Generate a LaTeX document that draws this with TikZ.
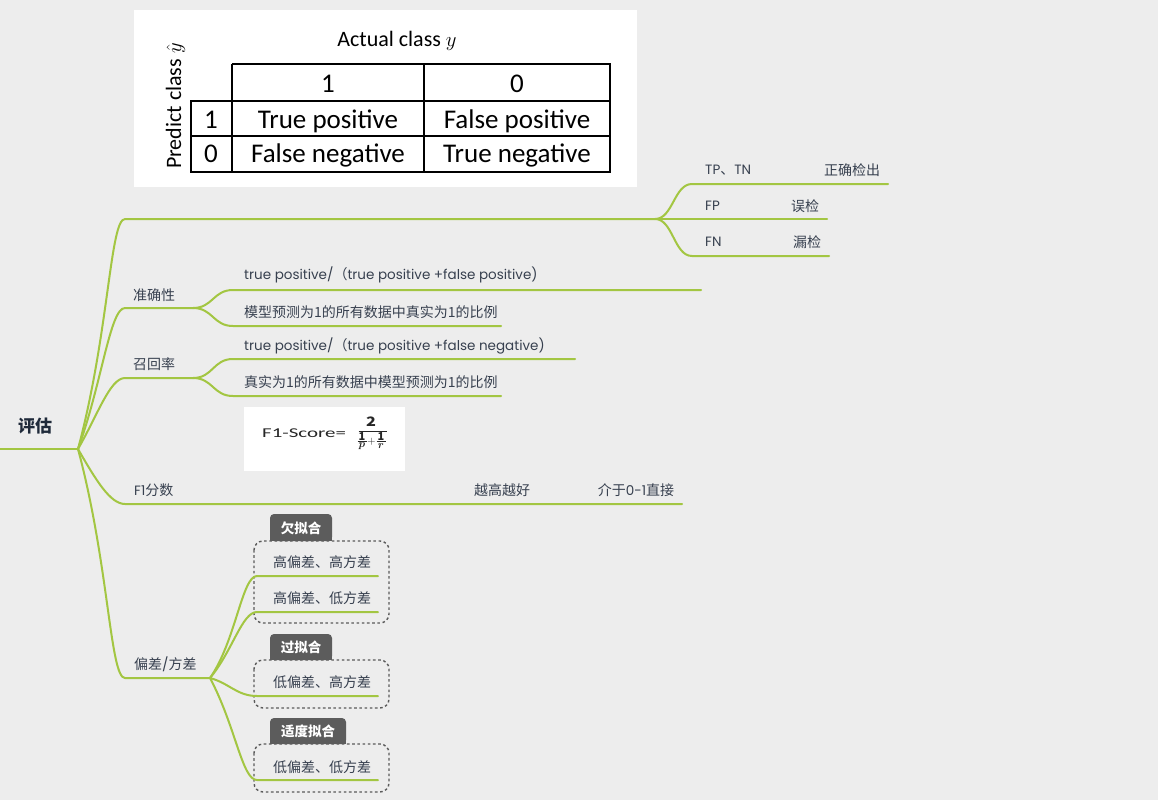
\documentclass[tikz,border=0pt]{standalone}
\usepackage{graphicx}
\usepackage{amsmath}
\usepackage{fontspec}
\setmainfont{Noto Sans CJK SC}
\newfontfamily\cjkf{Noto Sans CJK SC}
\newfontfamily\popf{Poppins}
\newfontfamily\calib{Carlito}
\newfontfamily\calibw{Carlito}[FakeStretch=1.55]
\newcommand{\latn}[1]{{\popf\fontsize{13.5}{16}\selectfont #1}}
\usetikzlibrary{calc}
\definecolor{bg}{HTML}{EDEDED}
\definecolor{grn}{HTML}{A3C642}
\definecolor{txt}{HTML}{37404F}
\definecolor{rootc}{HTML}{1F2A3A}
\definecolor{tabc}{HTML}{5C5C5C}
\definecolor{dsh}{HTML}{5A5A5A}
\tikzset{
  br/.style={draw=grn, line width=2pt, line cap=round},
  lbl/.style={font=\cjkf\fontsize{14}{16}\selectfont, text=txt, inner sep=0pt, anchor=west},
  clbl/.style={lbl, anchor=center},
  tbl/.style={draw=black, line width=1.3pt},
  tt/.style={font=\calib\fontsize{27}{30}\selectfont, inner sep=0pt, anchor=base},
  tth/.style={font=\calib\fontsize{22}{26}\selectfont, inner sep=0pt, anchor=base},
  dbox/.style={draw=dsh, line width=1.4pt, dash pattern=on 2.6pt off 2.6pt, rounded corners=9pt},
  tabtxt/.style={font=\cjkf\bfseries\fontsize{13.5}{16}\selectfont, text=white, inner sep=0pt},
  tabfill/.style={fill=tabc},
  fm/.style={inner sep=0pt, text=black!85, font=\fontsize{13}{14}\selectfont},
  fms/.style={inner sep=0pt, text=black!85, font=\fontsize{11}{12}\selectfont},
  fbar/.style={draw=black!85, line width=0.9pt},
}
\begin{document}
\begin{tikzpicture}[x=1pt,y=1pt]
\useasboundingbox (0,0) rectangle (1158,-800);
\fill[bg] (0,0) rectangle (1158,-800);

% ---- confusion matrix image
\fill[white] (134,-10) rectangle (637,-187);
\draw[tbl] (232,-64) -- (610,-64) -- (610,-172) -- (191,-172) -- (191,-101) -- (610,-101);
\draw[tbl] (232,-64) -- (232,-172);
\draw[tbl] (424,-64) -- (424,-172);
\draw[tbl] (191,-136) -- (610,-136);
\node[tth] (act) at (397,-47) {Actual class $y$};
\node[tth, rotate=90] (pred) at (181,-106) {Predict class $\hat{y}$};
\node[tt] (h1) at (328,-92) {1};
\node[tt] (h0) at (517,-92) {0};
\node[tt] (r1) at (211,-128) {1};
\node[tt] (tp) at (328,-128) {True positive};
\node[tt] (fp) at (517,-128) {False positive};
\node[tt] (r0l) at (211,-162) {0};
\node[tt] (fn) at (328,-162) {False negative};
\node[tt] (tn) at (517,-162) {True negative};

% ---- root
\node[font=\cjkf\bfseries\fontsize{17}{20}\selectfont, text=rootc, anchor=west, inner sep=0pt] (root) at (18,-426) {评估};
\coordinate (r0) at (0,-449);
\coordinate (J) at (78,-449);
\draw[br] (r0) -- (J);

% ---- branch 1 (TP/FP/FN)
\coordinate (b1s) at (125,-219);
\coordinate (b1e) at (655,-219);
\draw[br] (J) to[out=75,in=180,out distance=120pt,in distance=15pt] (b1s) -- (b1e);
\coordinate (tps) at (692,-184); \coordinate (tpe) at (888,-184);
\coordinate (fpe) at (827,-219);
\coordinate (fns) at (692,-256); \coordinate (fne) at (829,-256);
\draw[br] (b1e) to[out=0,in=180,out distance=18pt,in distance=18pt] (tps) -- (tpe);
\draw[br] (b1e) -- (fpe);
\draw[br] (b1e) to[out=0,in=180,out distance=18pt,in distance=18pt] (fns) -- (fne);
\node[lbl] (ltp) at (705,-170) {\latn{TP}、\latn{TN}};
\node[lbl] (ltpd) at (824,-170) {正确检出};
\node[lbl] (lfp) at (705,-206) {\latn{FP}};
\node[lbl] (lfpd) at (791,-206) {误检};
\node[lbl] (lfn) at (705,-242) {\latn{FN}};
\node[lbl] (lfnd) at (793,-242) {漏检};

% ---- 准确性
\coordinate (b2s) at (125,-308); \coordinate (b2e) at (193,-308);
\draw[br] (J) to[out=70,in=180,out distance=70pt,in distance=15pt] (b2s) -- (b2e);
\node[lbl] (lacc) at (133,-295) {准确性};
\coordinate (a1s) at (233,-290); \coordinate (a1e) at (701,-290);
\coordinate (a2s) at (233,-326); \coordinate (a2e) at (501,-326);
\draw[br] (b2e) to[out=0,in=180,out distance=20pt,in distance=20pt] (a1s) -- (a1e);
\draw[br] (b2e) to[out=0,in=180,out distance=20pt,in distance=20pt] (a2s) -- (a2e);
\node[lbl] (la1) at (244,-275) {\latn{true positive/}（\latn{true positive +false positive)}};
\node[lbl] (la2) at (244,-312) {模型预测为1的所有数据中真实为1的比例};

% ---- 召回率
\coordinate (b3s) at (125,-378); \coordinate (b3e) at (193,-378);
\draw[br] (J) to[out=60,in=180,out distance=40pt,in distance=15pt] (b3s) -- (b3e);
\node[lbl] (lrec) at (133,-364) {召回率};
\coordinate (c1s) at (233,-359); \coordinate (c1e) at (575,-359);
\coordinate (c2s) at (233,-396); \coordinate (c2e) at (501,-396);
\draw[br] (b3e) to[out=0,in=180,out distance=20pt,in distance=20pt] (c1s) -- (c1e);
\draw[br] (b3e) to[out=0,in=180,out distance=20pt,in distance=20pt] (c2s) -- (c2e);
\node[lbl] (lc1) at (244,-346) {\latn{true positive/}（\latn{true positive +false negative)}};
\node[lbl] (lc2) at (244,-382) {真实为1的所有数据中模型预测为1的比例};

% ---- F1 image
\fill[white] (244,-407) rectangle (405,-471);
\node[font=\calibw\fontsize{13.5}{16}\selectfont, inner sep=0pt, anchor=base west, text=black!85] (f1img) at (262,-437) {F1-Score=};
\node[fm] (fnum) at (371,-422) {\scalebox{1.25}[1]{$\mathbf{2}$}};
\draw[fbar] (358.5,-431.7) -- (386.5,-431.7);
\node[fms] (fa1) at (362,-436.8) {$\mathbf{1}$};
\draw[fbar, line width=0.7pt] (357.5,-441.3) -- (366.5,-441.3);
\node[fms] (fap) at (362,-446.5) {$\boldsymbol{p}$};
\node[fms] (fplus) at (371.5,-442) {$+$};
\node[fms] (fb1) at (381,-436.8) {$\mathbf{1}$};
\draw[fbar, line width=0.7pt] (376.5,-441.3) -- (385.5,-441.3);
\node[fms] (fbr) at (381,-446.5) {$\boldsymbol{r}$};

% ---- F1分数
\coordinate (b4s) at (125,-504); \coordinate (b4e) at (682,-504);
\draw[br] (J) to[out=-60,in=180,out distance=35pt,in distance=15pt] (b4s) -- (b4e);
\node[lbl] (lf1) at (134,-490) {\latn{F1}分数};
\node[clbl] (lf1a) at (502,-490) {越高越好};
\node[clbl] (lf1b) at (636,-490) {介于\latn{0-1}直接};

% ---- 偏差/方差
\coordinate (b5s) at (125,-678); \coordinate (b5e) at (210,-678);
\draw[br] (J) to[out=-75,in=180,out distance=120pt,in distance=15pt] (b5s) -- (b5e);
\node[lbl] (lbv) at (134,-664) {偏差\latn{/}方差};

\draw[dbox] (254,-541) rectangle (389,-623);
\draw[dbox] (254,-660) rectangle (389,-708);
\draw[dbox] (254,-744) rectangle (389,-792);

\coordinate (d1s) at (257,-576); \coordinate (d1e) at (378,-576);
\coordinate (d2s) at (257,-612); \coordinate (d2e) at (378,-612);
\coordinate (d3s) at (257,-696); \coordinate (d3e) at (378,-696);
\coordinate (d4s) at (257,-780); \coordinate (d4e) at (378,-780);
\draw[br] (b5e) to[out=55,in=180,out distance=45pt,in distance=15pt] (d1s) -- (d1e);
\draw[br] (b5e) to[out=50,in=180,out distance=35pt,in distance=15pt] (d2s) -- (d2e);
\draw[br] (b5e) to[out=-15,in=180,out distance=20pt,in distance=20pt] (d3s) -- (d3e);
\draw[br] (b5e) to[out=-62,in=180,out distance=55pt,in distance=15pt] (d4s) -- (d4e);

\node[clbl] (ld1) at (322,-562) {高偏差、高方差};
\node[clbl] (ld2) at (322,-598) {高偏差、低方差};
\node[clbl] (ld3) at (322,-682) {低偏差、高方差};
\node[clbl] (ld4) at (322,-767) {低偏差、低方差};

% tabs
\fill[tabfill, rounded corners=4pt] (270,-514) rectangle (332,-541);
\fill[tabfill] (270,-528) rectangle (332,-541);
\node[tabtxt] (t1) at (301,-528) {欠拟合};
\fill[tabfill, rounded corners=4pt] (270,-634) rectangle (332,-660);
\fill[tabfill] (270,-647) rectangle (332,-660);
\node[tabtxt] (t2) at (301,-647.5) {过拟合};
\fill[tabfill, rounded corners=4pt] (270,-718) rectangle (346,-744);
\fill[tabfill] (270,-731) rectangle (346,-744);
\node[tabtxt] (t3) at (308,-731.5) {适度拟合};
\end{tikzpicture}
\end{document}
